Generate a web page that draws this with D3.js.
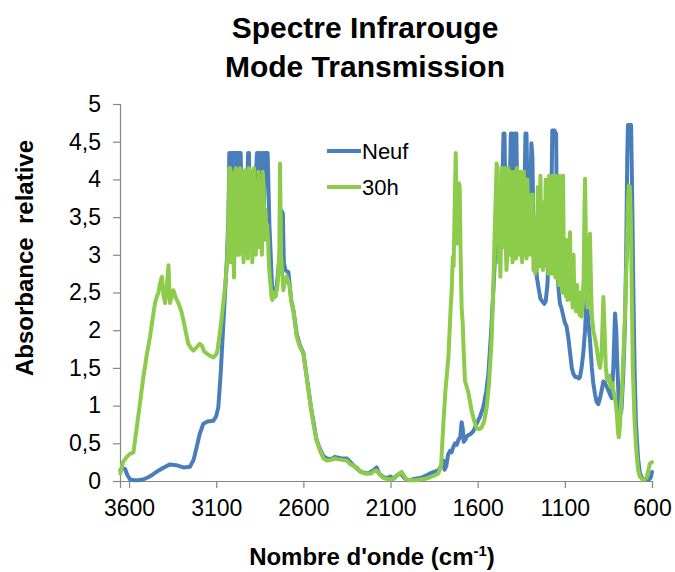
<!DOCTYPE html>
<html>
<head>
<meta charset="utf-8">
<script src="https://cdn.jsdelivr.net/npm/d3@7/dist/d3.min.js"></script>
<style>
  html, body { margin: 0; padding: 0; background: #ffffff; }
  svg { display: block; font-family: "Liberation Sans", Arial, sans-serif; }
</style>
</head>
<body>
<svg id="chart" width="675" height="572"></svg>
<script>
// ---- Data ----
const titleLines = ["Spectre Infrarouge", "Mode Transmission"];
const xTicks = [3600, 3100, 2600, 2100, 1600, 1100, 600];
const yTicks = [0, 0.5, 1, 1.5, 2, 2.5, 3, 3.5, 4, 4.5, 5];
const yTickLabels = ["0", "0,5", "1", "1,5", "2", "2,5", "3", "3,5", "4", "4,5", "5"];
const seriesNames = ["Neuf", "30h"];
const seriesColors = ["#4A7EBB", "#8DCB4A"];

// Neuf (new) spectrum: wavenumbers (cm-1) and relative absorbance
const neufWn = [3650,3640,3623,3610,3594,3570,3545,3520,3490,3461,3430,3400,3365,3330,3288,3250,3230,3212,3195,3174,3150,3116,3100,3088,3075,3059,3040,3030,3025,
  3015,3011,3007,3003,2990,2985,2980,2970,2960,2955,2952,2945,2935,2925,2917,2912,2906,2900,2890,2880,2866,2860,2852,2845,2838,2831,2826,2820,2805,2795,2780,2772,2760,2748,2736,2725,2718,2712,2704,2695,2686,
  2670,2657,2638,2620,2600,2585,2571,2555,2543,2525,2504,2485,2466,2440,2420,2400,2380,2351,2330,2310,2294,2270,2250,2230,2200,2180,2165,2140,2120,2100,2085,2060,2040,2025,2010,1990,1960,1931,1910,1890,1873,1850,1826,1810,1797,1790,1780,1770,1758,1750,1740,1730,1720,1710,1700,1692,1686,1680,1670,1660,1643,1625,1606,1587,1568,1550,1539,1525,1510,1500,1491,
  1480,1472,1460,1452,1446,1440,1433,1420,1410,1400,1395,1386,1378,1372,1365,1355,1347,1335,1326,1320,1312,1300,1292,1286,1280,1271,1261,1250,1240,1228,1218,1210,1200,1190,1178,1172,1160,1150,1145,1138,1128,1120,1110,1100,1090,1080,1070,1060,1051,1040,1030,1020,1013,1004,994,984,975,968,956,945,937,927,918,908,898,889,879,870,860,850,841,831,822,812,805,800,790,785,775,765,755,748,742,738,720,715,707,700,692,680,669,655,640,625,612,605,600];
const neufAbs = [0.14,0.17,0.16,0.08,0.02,0.01,0.01,0.02,0.05,0.09,0.14,0.18,0.22,0.21,0.18,0.19,0.28,0.45,0.62,0.76,0.79,0.8,0.86,0.98,1.4,2.09,2.89,3.5,4.35,
  4.35,3.6,4.35,4.35,4.35,3.4,4.35,4.35,4.35,3.9,3.3,3.5,3.2,3.6,4.35,4.35,3.4,3.6,3.3,3.7,4.35,4.35,4.35,3.8,4.35,4.35,3.6,4.35,4.35,3.4,2.6,2.44,2.45,2.7,3.0,3.58,3.55,2.9,2.8,2.78,2.77,
  2.4,2.26,1.95,1.8,1.7,1.45,1.22,0.95,0.8,0.55,0.42,0.33,0.3,0.29,0.32,0.31,0.3,0.3,0.25,0.2,0.17,0.12,0.11,0.1,0.14,0.18,0.1,0.05,0.04,0.06,0.03,0.08,0.1,0.05,0.02,0.01,0.03,0.04,0.06,0.08,0.1,0.12,0.14,0.2,0.27,0.15,0.2,0.35,0.4,0.38,0.45,0.5,0.48,0.55,0.58,0.78,0.7,0.52,0.55,0.6,0.62,0.66,0.76,0.85,0.98,1.2,1.42,1.9,2.53,3.0,3.42,
  3.9,3.6,3.8,4.61,4.61,3.5,3.7,3.4,4.61,4.61,3.6,4.61,4.61,3.5,3.8,3.3,3.6,3.4,4.61,4.61,3.4,3.6,4.48,4.3,3.3,3.1,2.71,2.55,2.42,2.38,2.35,2.38,2.6,3.2,3.6,4.65,4.65,4.6,3.2,2.6,2.35,2.3,2.2,2.1,2.05,1.9,1.7,1.5,1.42,1.38,1.38,1.36,1.38,1.5,1.7,2.0,2.44,2.2,1.87,1.5,1.3,1.15,1.05,1.02,1.1,1.2,1.32,1.3,1.25,1.2,1.15,1.1,1.5,2.22,2.0,1.6,1.0,0.85,0.95,1.4,2.09,3.0,4.3,4.72,4.72,4.0,2.53,1.5,0.76,0.3,0.1,0.03,0.02,0.02,0.03,0.06,0.12];

// 30h (aged) spectrum
const h30Wn = [3650,3635,3613,3595,3575,3545,3518,3500,3480,3465,3451,3440,3432,3422,3412,3402,3393,3383,3374,3368,3365,3355,3346,3330,3317,3300,3288,3275,3260,3245,3231,3210,3195,3183,3170,3154,3135,3116,3100,3093,3080,3068,3055,3044,3036,3030,
  3025,3020,3017,3012,3008,3003,2998,2993,2988,2983,2978,2973,2968,2963,2958,2953,2948,2943,2938,2933,2928,2923,2918,2913,2908,2903,2898,2893,2888,2883,2878,2873,2868,2863,2858,2853,2848,2843,2838,2833,2828,2823,2818,2813,2808,2803,2798,2793,2788,2783,2778,2770,2760,2748,2738,2734,2728,2715,2705,2695,2680,
  2670,2657,2638,2620,2600,2585,2571,2555,2543,2525,2504,2485,2466,2440,2420,2409,2380,2351,2330,2310,2294,2270,2250,2236,2210,2195,2179,2160,2140,2122,2100,2075,2050,2036,2020,2007,1980,1950,1931,1900,1873,1850,1826,1810,1797,1785,1768,1755,1749,1743,1738,1733,1726,1721,1717,1712,1707,1703,1698,1692,1686,1680,1673,1663,1654,1644,1634,1620,1606,1590,1577,1562,1548,1535,1520,1510,1501,
  1491,1485,1480,1475,1470,1465,1460,1455,1450,1445,1440,1435,1430,1425,1420,1415,1410,1405,1400,1395,1390,1385,1380,1375,1370,1365,1360,1355,1350,1345,1340,1335,1330,1325,1320,1315,1310,1305,1300,1295,1290,1285,1280,1275,1270,1265,1260,1255,1250,1245,1240,1235,1230,1225,1220,1215,1210,1205,1200,1195,1190,1185,1180,1175,1170,1165,1160,1155,1150,1145,1140,1135,1130,1125,1120,1115,1110,1105,1100,1095,1090,1085,1080,1075,1070,1065,1060,1055,1050,1045,1040,1035,1030,1025,1020,1015,1010,1004,998,992,988,984,980,975,970,965,960,956,950,945,937,928,918,908,898,889,879,872,865,858,851,845,838,830,822,812,802,795,791,785,778,772,765,755,748,744,738,733,727,722,716,710,700,690,680,670,655,640,630,620,612,600];
const h30Abs = [0.1,0.25,0.32,0.36,0.38,0.9,1.38,1.65,1.91,2.15,2.36,2.45,2.49,2.62,2.71,2.45,2.36,2.6,2.86,2.5,2.36,2.45,2.53,2.42,2.36,2.25,2.13,1.98,1.82,1.76,1.73,1.78,1.82,1.8,1.72,1.69,1.66,1.64,1.68,1.73,1.95,2.18,2.45,2.71,3.0,3.42,
  4.15,4.15,2.9,4.1,3.0,3.2,2.7,3.4,4.15,4.1,3.0,3.3,3.0,4.15,4.1,3.5,3.2,2.9,4.1,4.12,3.0,3.2,2.95,4.15,4.1,3.1,3.5,2.9,4.1,4.15,3.4,3.0,3.6,3.1,4.1,3.6,3.1,3.5,3.0,4.1,3.9,3.2,3.6,3.2,3.4,3.2,2.9,2.7,2.6,2.45,2.4,2.5,2.45,2.6,3.0,4.21,3.0,2.53,2.65,2.71,2.6,
  2.4,2.26,1.91,1.78,1.69,1.45,1.2,0.95,0.76,0.55,0.4,0.3,0.27,0.28,0.3,0.29,0.28,0.27,0.22,0.2,0.18,0.12,0.1,0.1,0.1,0.13,0.14,0.08,0.04,0.03,0.02,0.04,0.1,0.12,0.06,0.02,0.01,0.01,0.02,0.03,0.05,0.07,0.1,0.2,0.76,1.2,1.64,2.3,2.53,2.97,2.85,3.5,4.35,3.6,3.15,3.5,3.95,3.9,3.0,2.3,2.09,1.7,1.33,1.25,1.18,1.05,0.92,0.8,0.7,0.69,0.71,0.8,0.98,1.3,1.87,2.6,3.42,
  4.21,4.15,2.9,3.5,2.71,3.3,4.15,3.6,3.1,4.15,3.2,2.8,3.0,4.15,3.4,3.0,4.1,3.5,2.9,3.6,4.1,3.3,2.95,4.15,3.4,3.8,3.0,4.1,3.5,2.9,3.6,4.1,3.0,3.7,2.95,4.0,3.3,3.8,3.0,3.7,3.2,3.8,2.8,3.5,2.75,3.3,2.8,3.9,3.0,2.85,4.05,2.9,3.4,2.8,3.7,3.0,4.0,2.85,3.3,2.75,4.05,3.0,3.6,2.75,4.05,3.1,3.7,2.7,4.05,2.9,3.5,2.6,4.05,2.7,3.2,2.5,4.05,2.6,3.0,2.45,3.2,2.4,2.7,2.45,3.3,2.4,2.6,2.3,3.0,2.3,2.5,2.25,2.6,2.3,2.4,2.2,2.5,2.18,2.4,2.7,3.5,4.01,3.3,2.6,2.3,2.9,2.4,3.28,2.6,2.2,2.0,1.9,1.78,1.6,1.5,1.7,2.44,2.0,1.5,1.35,1.33,1.4,1.25,1.3,1.2,1.1,0.9,0.65,0.58,0.7,1.0,1.2,1.6,2.2,2.8,2.97,3.7,3.92,3.9,3.5,2.5,1.5,0.8,0.4,0.15,0.06,0.02,0.02,0.05,0.15,0.23,0.25];

const xAxisTitle = "Nombre d'onde (cm";
const xAxisTitleSup = "-1";
const yAxisTitle = "Absorbance\u00A0\u00A0relative";

// ---- Drawing ----
const svg = d3.select("#chart");
const axisColor = "#868686";

const x = d3.scaleLinear().domain([3652, 600]).range([120, 652]);
const y = d3.scaleLinear().domain([0, 5]).range([481, 104]);

// Title
svg.append("g").selectAll("text").data(titleLines).join("text")
  .attr("x", 365).attr("y", (d, i) => 38 + i * 39)
  .attr("text-anchor", "middle")
  .attr("font-size", 30).attr("font-weight", "bold").attr("fill", "#000")
  .text(d => d);

// Y axis
const yAxis = d3.axisLeft(y).tickValues(yTicks).tickSize(7).tickPadding(12)
  .tickFormat((d, i) => yTickLabels[i]);
const gy = svg.append("g").attr("transform", "translate(120,0)").call(yAxis);
gy.select(".domain").attr("stroke", axisColor).attr("stroke-width", 1.2);
gy.selectAll(".tick line").attr("stroke", axisColor).attr("stroke-width", 1.2);
gy.selectAll(".tick text").attr("font-size", 23).attr("fill", "#000")
  .attr("font-family", "Liberation Sans, Arial, sans-serif");

// X axis
const xAxis = d3.axisBottom(x).tickValues(xTicks).tickSize(7).tickPadding(12)
  .tickFormat(d3.format("d"));
const gx = svg.append("g").attr("transform", "translate(0,481)").call(xAxis);
gx.select(".domain").attr("stroke", axisColor).attr("stroke-width", 1.2);
gx.selectAll(".tick line").attr("stroke", axisColor).attr("stroke-width", 1.2);
gx.selectAll(".tick text").attr("font-size", 23).attr("fill", "#000")
  .attr("font-family", "Liberation Sans, Arial, sans-serif");

// Series lines
const series = [
  { name: seriesNames[0], wn: neufWn, abs: neufAbs, color: seriesColors[0] },
  { name: seriesNames[1], wn: h30Wn, abs: h30Abs, color: seriesColors[1] }
];
const line = d3.line().x(d => x(d[0])).y(d => y(d[1])).curve(d3.curveLinear);
svg.append("g").selectAll("path").data(series).join("path")
  .attr("d", s => line(s.wn.map((w, i) => [w, s.abs[i]])))
  .attr("fill", "none")
  .attr("stroke", s => s.color)
  .attr("stroke-width", 4)
  .attr("stroke-linejoin", "round")
  .attr("stroke-linecap", "round");

// Legend
const lg = svg.append("g").selectAll("g").data(series).join("g")
  .attr("transform", (d, i) => `translate(327,${151 + i * 36})`);
lg.append("line").attr("x1", 0).attr("x2", 34).attr("y1", 0).attr("y2", 0)
  .attr("stroke", d => d.color).attr("stroke-width", 4);
lg.append("text").attr("x", 35).attr("y", 8).attr("font-size", 22).attr("fill", "#000")
  .text(d => d.name);

// Axis titles
const xt = svg.append("text").attr("x", 372).attr("y", 565)
  .attr("text-anchor", "middle").attr("font-size", 24).attr("font-weight", "bold").attr("fill", "#000");
xt.append("tspan").text(xAxisTitle);
xt.append("tspan").attr("font-size", 15).attr("dy", -9).text(xAxisTitleSup);
xt.append("tspan").attr("dy", 9).text(")");

svg.append("text")
  .attr("transform", "translate(33,258) rotate(-90)")
  .attr("text-anchor", "middle").attr("font-size", 24).attr("font-weight", "bold").attr("fill", "#000")
  .text(yAxisTitle);
</script>
</body>
</html>
